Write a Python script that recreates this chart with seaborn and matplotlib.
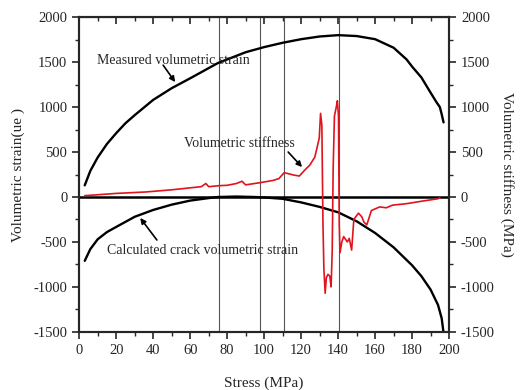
import numpy as np
import pandas as pd
import matplotlib
matplotlib.use("Agg")
import matplotlib.pyplot as plt
import seaborn as sns
from matplotlib.ticker import MultipleLocator

# measured volumetric strain (black, upper)
stress_m = [3, 6, 10, 15, 20, 25, 30, 40, 50, 60, 75, 90, 100, 110, 120, 130, 140,
            150, 160, 170, 177, 180, 185, 190, 193, 195, 196, 197]
measured = [130, 290, 440, 590, 710, 820, 910, 1080, 1210, 1320, 1490, 1610, 1667, 1715,
            1755, 1785, 1800, 1790, 1755, 1660, 1530, 1450, 1330, 1160, 1060, 1000, 920, 830]

# calculated crack volumetric strain (black, lower)
stress_c = [3, 6, 10, 15, 20, 30, 40, 50, 60, 70, 75, 85, 95, 100, 110, 120, 130, 140,
            150, 160, 170, 180, 185, 190, 194, 196, 197]
crack = [-710, -580, -470, -390, -333, -220, -144, -85, -40, -12, 0, 5, 0, -5, -20, -60,
         -110, -170, -270, -400, -560, -760, -880, -1030, -1200, -1350, -1510]

# volumetric stiffness (red)
stress_s = [3, 10, 20, 36, 50, 66, 68.5, 70, 75.7, 80, 85, 88, 90, 98, 105, 108, 110.8,
            112, 116, 119, 122, 124.7, 127.4, 129.8, 130.5, 131.2, 131.8, 132.3, 133, 133.6,
            134.5, 135.5, 136.2, 136.8, 137.3, 138, 139, 139.6, 140.2, 140.6, 141, 142, 143,
            144, 145, 146, 147.3, 148.5, 149.5, 151, 152.8, 154, 155.5, 158, 162.5, 166,
            169.5, 176.7, 185.7, 193.8, 195]
stiffness = [15, 25, 40, 56, 80, 115, 150, 115, 126, 130, 150, 175, 135, 160, 185, 205, 270,
             265, 244, 233, 300, 355, 444, 655, 930, 800, -300, -800, -1070, -900,
             -860, -880, -1000, -600, 300, 900, 1000, 1070, 900, -300, -620, -500, -440,
             -470, -500, -460, -590, -250, -220, -180, -220, -280, -310, -150, -110, -120,
             -90, -75, -45, -20, -10]

# stage boundaries
v_lines = [75.5, 98, 110.8, 140.7]

sns.set_style("ticks")
plt.rcParams['font.family'] = ['Liberation Serif', 'DejaVu Serif']
plt.rcParams['axes.unicode_minus'] = False

fig, ax = plt.subplots(figsize=(5.21, 3.90), dpi=100)
fig.subplots_adjust(left=0.152, right=0.862, top=0.956, bottom=0.149)

for xv in v_lines:
    ax.axvline(xv, color='#555555', lw=0.8, zorder=1)
ax.axhline(0, color='black', lw=1.8, zorder=2)

sns.lineplot(x=stress_m, y=measured, ax=ax, color='black', lw=1.7, sort=False, zorder=3)
sns.lineplot(x=stress_c, y=crack, ax=ax, color='black', lw=1.7, sort=False, zorder=3)
sns.lineplot(x=stress_s, y=stiffness, ax=ax, color='#e0141e', lw=1.2, sort=False, zorder=4)

ax.set_xlim(0, 200)
ax.set_ylim(-1500, 2000)
ax.xaxis.set_major_locator(MultipleLocator(20))
ax.xaxis.set_minor_locator(MultipleLocator(10))
ax.yaxis.set_major_locator(MultipleLocator(500))
ax.yaxis.set_minor_locator(MultipleLocator(250))
ax.tick_params(which='major', length=5, width=1.2, labelsize=10.5, direction='out')
ax.tick_params(which='minor', length=3, width=1, direction='out')
for s in ax.spines.values():
    s.set_linewidth(1.5)

# inward ticks along the top edge
top = ax.secondary_xaxis('top')
top.xaxis.set_major_locator(MultipleLocator(20))
top.xaxis.set_minor_locator(MultipleLocator(10))
top.tick_params(which='major', length=5, width=1.2, direction='in', labeltop=False)
top.tick_params(which='minor', length=3, width=1, direction='in')

ax.set_xlabel("Stress (MPa)", fontsize=11, labelpad=14)
ax.set_ylabel("Volumetric strain(ue )", fontsize=11, labelpad=6)

ax2 = ax.twinx()
ax2.set_ylim(-1500, 2000)
ax2.yaxis.set_major_locator(MultipleLocator(500))
ax2.yaxis.set_minor_locator(MultipleLocator(250))
ax2.tick_params(which='major', length=5, width=1.2, labelsize=10.5, direction='out')
ax2.tick_params(which='minor', length=3, width=1, direction='out')
ax2.set_ylabel("Volumetric stiffness (MPa)", fontsize=11, rotation=270, labelpad=14)
for s in ax2.spines.values():
    s.set_linewidth(1.5)

arrow = dict(arrowstyle='-|>', color='black', lw=1.2, mutation_scale=8,
             shrinkA=0, shrinkB=0)
ax.text(51, 1520, "Measured volumetric strain", ha='center', va='center', fontsize=10)
ax.annotate("", xy=(51.9, 1278), xytext=(45.4, 1466), arrowprops=arrow)
ax.text(86.5, 600, "Volumetric stiffness", ha='center', va='center', fontsize=10)
ax.annotate("", xy=(120.5, 333), xytext=(113, 500), arrowprops=arrow)
ax.text(66.5, -590, "Calculated crack volumetric strain", ha='center', va='center', fontsize=10)
ax.annotate("", xy=(33, -233), xytext=(42, -478), arrowprops=arrow)

fig.savefig("out.png", dpi=100)
